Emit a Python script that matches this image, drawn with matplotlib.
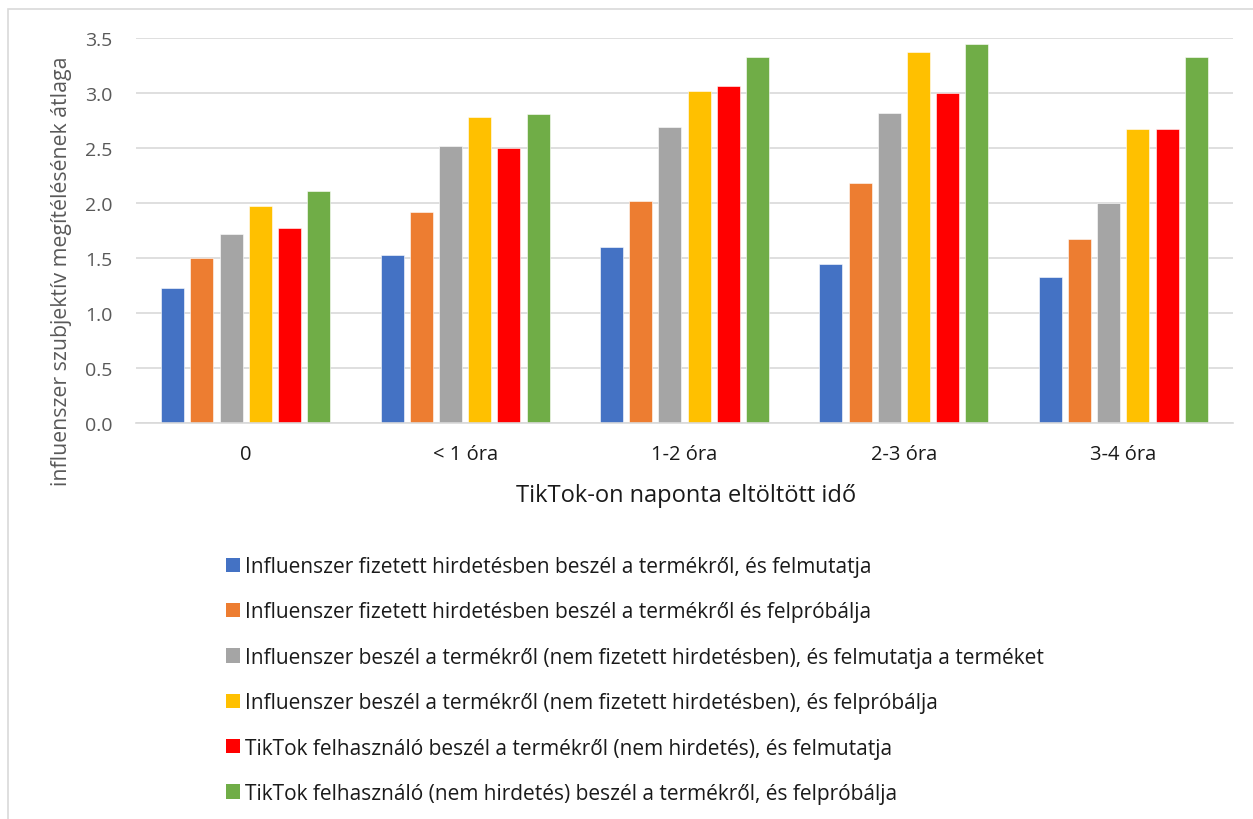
import matplotlib
matplotlib.use("Agg")
import matplotlib.pyplot as plt
from matplotlib.patches import Patch, Rectangle
import numpy as np

plt.rcParams['font.family'] = ['Open Sans', 'DejaVu Sans']

categories = ["0", "< 1 óra", "1-2 óra", "2-3 óra", "3-4 óra"]

series_names = [
    "Influenszer fizetett hirdetésben beszél a termékről, és felmutatja",
    "Influenszer fizetett hirdetésben beszél a termékről és felpróbálja",
    "Influenszer beszél a termékről (nem fizetett hirdetésben), és felmutatja a terméket",
    "Influenszer beszél a termékről (nem fizetett hirdetésben), és felpróbálja",
    "TikTok felhasználó beszél a termékről (nem hirdetés), és felmutatja",
    "TikTok felhasználó (nem hirdetés) beszél a termékről, és felpróbálja",
]

paid_shows = [1.23, 1.53, 1.60, 1.45, 1.33]
paid_tries = [1.50, 1.92, 2.02, 2.18, 1.67]
unpaid_shows = [1.72, 2.52, 2.69, 2.82, 2.00]
unpaid_tries = [1.97, 2.78, 3.02, 3.37, 2.67]
user_shows = [1.77, 2.50, 3.06, 3.00, 2.67]
user_tries = [2.11, 2.81, 3.33, 3.45, 3.33]

series_values = [paid_shows, paid_tries, unpaid_shows, unpaid_tries, user_shows, user_tries]
colors = ["#4472C4", "#ED7D31", "#A5A5A5", "#FFC000", "#FF0000", "#70AD47"]

y_ticks = [0.0, 0.5, 1.0, 1.5, 2.0, 2.5, 3.0, 3.5]

W, H = 1253, 820
fig = plt.figure(figsize=(W / 100, H / 100), dpi=100)

# outer chart frame
fig.patches.append(Rectangle((8 / W, -0.01), 1.01, 1 - 10 / H + 0.01,
                             transform=fig.transFigure, fill=False,
                             edgecolor="#d9d9d9", linewidth=1.2))

ax = fig.add_axes([136 / W, 1 - 424 / H, (1233 - 136) / W, (424 - 39) / H])

x = np.arange(len(categories))
step = 0.1331
width = 0.105
for i, (vals, col, name) in enumerate(zip(series_values, colors, series_names)):
    ax.bar(x + (i - 2.5) * step, vals, width=width, color=col, label=name,
           edgecolor="white", linewidth=0.4, zorder=3)

ax.set_xlim(-0.5, len(categories) - 0.5)
ax.set_ylim(0, 3.5)
ax.set_yticks(y_ticks)
ax.set_yticklabels([f"{v:.1f}" for v in y_ticks])
ax.set_xticks(x)
ax.set_xticklabels(categories)
ax.tick_params(axis="both", length=0)
ax.tick_params(axis="y", labelsize=14, labelcolor="#595959", pad=17)
ax.tick_params(axis="x", labelsize=14.5, labelcolor="#1a1a1a", pad=15)

ax.grid(axis="y", color="#d9d9d9", linewidth=1.2, zorder=0)
for side in ["top", "right", "left"]:
    ax.spines[side].set_visible(False)
ax.spines["bottom"].set_color("#d9d9d9")
ax.spines["bottom"].set_linewidth(1.2)
ax.spines["bottom"].set_zorder(4)

fig.text(62 / W, 1 - 271 / H, "influenszer szubjektív megítélésének átlaga",
         rotation=90, ha="center", va="center", fontsize=15.3, color="#595959")
fig.text(686 / W, 1 - 496 / H, "TikTok-on naponta eltöltött idő",
         ha="center", va="center", fontsize=17, color="#1a1a1a")

handles = [Patch(facecolor=c, edgecolor="none") for c in colors]
fig.legend(handles, series_names, loc="upper left",
           bbox_to_anchor=(226 / W, 1 - 557 / H), frameon=False,
           fontsize=15, labelspacing=1.17, handlelength=0.67, handleheight=0.67,
           handletextpad=0.24, borderpad=0, borderaxespad=0,
           labelcolor="#1a1a1a")

fig.savefig("out.png", dpi=100)
